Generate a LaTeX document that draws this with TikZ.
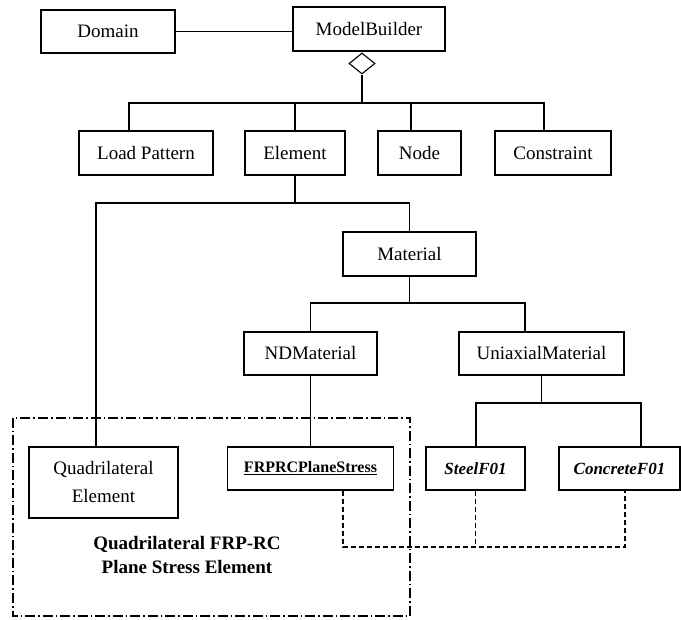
\documentclass[tikz,border=0pt]{standalone}
\usepackage{fontspec}
\setmainfont{Liberation Serif}
\usetikzlibrary{shapes.geometric}

\tikzset{
  classbox/.style={draw, line width=1.1pt, inner sep=0pt, minimum height=43pt, align=center,
    font=\fontsize{19}{28}\selectfont},
  implbox/.style={classbox, font=\fontsize{17}{20}\selectfont\bfseries\itshape},
  link/.style={line width=1.1pt},
  depline/.style={line width=1.1pt, dash pattern=on 5pt off 3pt},
  groupframe/.style={line width=1.1pt, dash pattern=on 10pt off 3pt on 1.5pt off 3pt}
}

\begin{document}
\begin{tikzpicture}[x=1pt, y=-1pt, line cap=butt, line join=miter]
\useasboundingbox (0,0) rectangle (681,620);

% top row
\node[classbox, minimum width=134pt] (domain) at (108,31.5) {Domain};
\node[classbox, minimum width=152pt, minimum height=44pt] (builder) at (369,29) {ModelBuilder};
\draw[link] (domain.east) -- (domain.east -| builder.west);
\node[diamond, draw, line width=1.1pt, inner sep=0pt, minimum width=26pt, minimum height=21pt] (dia) at (362,63.5) {};

% components of the model
\node[classbox, minimum width=134pt, minimum height=44pt] (loadpat) at (146,153) {Load Pattern};
\node[classbox, minimum width=100pt, minimum height=44pt] (element) at (295,153) {Element};
\node[classbox, minimum width=83pt, minimum height=44pt] (nodebox) at (419.5,153) {Node};
\node[classbox, minimum width=116pt, minimum height=44pt] (constraint) at (553,153) {Constraint};

\coordinate (j1) at (129,103);
\coordinate (j2) at (411,103);
\coordinate (j3) at (544,103);
\draw[link] (dia.south) -- (dia.south |- j1);
\draw[link] (j1 |- loadpat.north) |- (j3) -- (j3 |- constraint.north);
\draw[link] (element.north) -- (element.north |- j1);
\draw[link] (j2 |- nodebox.north) -- (j2);

% materials
\node[classbox, minimum width=133pt, minimum height=44pt] (material) at (409.5,254) {Material};
\node[classbox, minimum width=133pt] (ndmat) at (310.5,353.5) {NDMaterial};
\node[classbox, minimum width=165pt] (unimat) at (541.5,353.5) {UniaxialMaterial};

\coordinate (j4) at (96,203);
\coordinate (j5) at (409.5,203);
\draw[link] (element.south) -- (element.south |- j5);
\draw[link] (j4 |- 0,447) |- (j5) -- (material.north);

\coordinate (j6) at (310.5,303);
\coordinate (j7) at (525,303);
\draw[link] (material.south) -- (material.south |- j6);
\draw[link] (ndmat.north) |- (j7) -- (j7 |- unimat.north);

% bottom row
\node[classbox, minimum width=149pt, minimum height=71pt] (quad) at (103.5,482.5) {Quadrilateral\\Element};
\node[classbox, minimum width=166pt, font=\fontsize{16}{20}\selectfont\bfseries] (frprc) at (310.5,468.5) {\underline{FRPRCPlaneStress}};
\node[implbox, minimum width=99pt] (steel) at (475.5,468.5) {SteelF01};
\node[implbox, minimum width=121pt] (concrete) at (619.5,468.5) {ConcreteF01};

\draw[link] (ndmat.south) -- (frprc.north);

\coordinate (j8) at (476,403);
\coordinate (j9) at (641,403);
\draw[link] (unimat.south) -- (unimat.south |- j8);
\draw[link] (j8 |- steel.north) |- (j9) -- (j9 |- concrete.north);

% dependencies
\coordinate (d1) at (343,547);
\coordinate (d2) at (476,547);
\coordinate (d3) at (625,547);
\draw[depline] (d1 |- frprc.south) |- (d3) -- (d3 |- concrete.south);
\draw[depline] (steel.south) -- (steel.south |- d2);

% grouping frame
\draw[groupframe] (13,418) rectangle (410,616);
\node[align=center, font=\fontsize{19}{24}\selectfont\bfseries] (grouplabel) at (187,555) {Quadrilateral FRP-RC\\Plane Stress Element};

\end{tikzpicture}
\end{document}
